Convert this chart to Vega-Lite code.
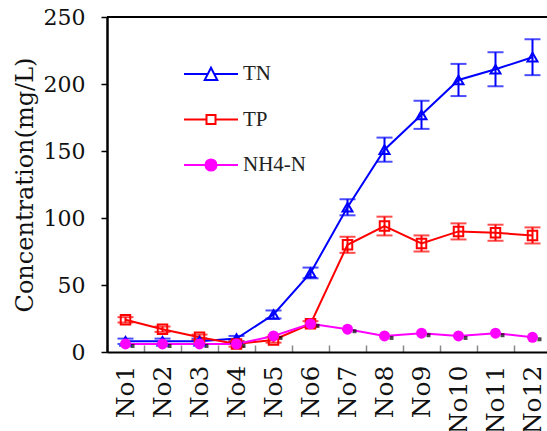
{
  "$schema": "https://vega.github.io/schema/vega-lite/v6.json",
  "autosize": {"type": "none"},
  "padding": {"left": 107, "top": 17, "right": 0, "bottom": 79},
  "width": 440,
  "height": 335,
  "background": "white",
  "config": {
    "view": {"stroke": null},
    "axis": {"labelFont": "DejaVu Serif", "titleFont": "DejaVu Serif", "labelColor": "#111", "titleColor": "#111", "grid": false}
  },
  "data": {
    "values": [
      {"No": "No1", "series": "TN", "value": 8, "err": 2},
      {"No": "No2", "series": "TN", "value": 8, "err": 2},
      {"No": "No3", "series": "TN", "value": 8, "err": 2},
      {"No": "No4", "series": "TN", "value": 10, "err": 2},
      {"No": "No5", "series": "TN", "value": 28, "err": 3},
      {"No": "No6", "series": "TN", "value": 59, "err": 4},
      {"No": "No7", "series": "TN", "value": 108, "err": 6},
      {"No": "No8", "series": "TN", "value": 151, "err": 9},
      {"No": "No9", "series": "TN", "value": 177, "err": 10.5},
      {"No": "No10", "series": "TN", "value": 203, "err": 12},
      {"No": "No11", "series": "TN", "value": 211, "err": 12.7},
      {"No": "No12", "series": "TN", "value": 220, "err": 13.4},
      {"No": "No1", "series": "TP", "value": 24, "err": 2},
      {"No": "No2", "series": "TP", "value": 17, "err": 2},
      {"No": "No3", "series": "TP", "value": 11, "err": 2},
      {"No": "No4", "series": "TP", "value": 6, "err": 2},
      {"No": "No5", "series": "TP", "value": 9, "err": 2},
      {"No": "No6", "series": "TP", "value": 21, "err": 2},
      {"No": "No7", "series": "TP", "value": 80, "err": 6},
      {"No": "No8", "series": "TP", "value": 94, "err": 7},
      {"No": "No9", "series": "TP", "value": 81, "err": 6},
      {"No": "No10", "series": "TP", "value": 90, "err": 6},
      {"No": "No11", "series": "TP", "value": 89, "err": 6},
      {"No": "No12", "series": "TP", "value": 87, "err": 6},
      {"No": "No1", "series": "NH4-N", "value": 6, "err": 0},
      {"No": "No2", "series": "NH4-N", "value": 6, "err": 0},
      {"No": "No3", "series": "NH4-N", "value": 6, "err": 0},
      {"No": "No4", "series": "NH4-N", "value": 6, "err": 0},
      {"No": "No5", "series": "NH4-N", "value": 12, "err": 0},
      {"No": "No6", "series": "NH4-N", "value": 21, "err": 0},
      {"No": "No7", "series": "NH4-N", "value": 17, "err": 0},
      {"No": "No8", "series": "NH4-N", "value": 12, "err": 0},
      {"No": "No9", "series": "NH4-N", "value": 14, "err": 0},
      {"No": "No10", "series": "NH4-N", "value": 12, "err": 0},
      {"No": "No11", "series": "NH4-N", "value": 14, "err": 0},
      {"No": "No12", "series": "NH4-N", "value": 11, "err": 0}
    ]
  },
  "encoding": {
    "y": {
      "field": "value", "type": "quantitative", "title": "Concentration(mg/L)",
      "scale": {"domain": [0, 250], "nice": false},
      "axis": {
        "title": "Concentration(mg/L)", "titleFontSize": 24, "titleFontWeight": "normal", "titlePadding": 6,
        "values": [0, 50, 100, 150, 200, 250], "labelFontSize": 22, "labelPadding": 16,
        "tickSize": 6, "tickColor": "#000", "tickWidth": 1.5, "domainColor": "#000", "domainWidth": 2.5
      }
    }
  },
  "layer": [
    {
      "mark": {"type": "rule", "color": "#000", "strokeWidth": 2},
      "encoding": {"y": {"datum": 250}}
    },
    {
      "transform": [{"filter": "datum.series === 'TN'"}],
      "mark": {"type": "errorbar", "ticks": true, "size": 16, "thickness": 2, "color": "#0000ff"},
      "encoding": {
        "x": {"field": "No", "type": "nominal", "sort": null, "title": null,
          "scale": {"type": "band", "paddingInner": 0, "paddingOuter": 0, "range": [0, 444]}},
        "y": {"field": "value", "type": "quantitative", "title": "Concentration(mg/L)"},
        "yError": {"field": "err"}
      }
    },
    {
      "transform": [{"filter": "datum.series === 'TP'"}],
      "mark": {"type": "errorbar", "ticks": true, "size": 16, "thickness": 2, "color": "#ff0000"},
      "encoding": {
        "x": {"field": "No", "type": "nominal", "sort": null, "title": null,
          "scale": {"type": "band", "paddingInner": 0, "paddingOuter": 0, "range": [0, 444]}},
        "y": {"field": "value", "type": "quantitative", "title": "Concentration(mg/L)"},
        "yError": {"field": "err"}
      }
    },
    {
      "mark": {"type": "line", "strokeWidth": 2},
      "encoding": {
        "x": {
          "field": "No", "type": "nominal", "sort": null, "title": null,
          "scale": {"type": "band", "paddingInner": 0, "paddingOuter": 0, "range": [0, 444]},
          "axis": {
            "title": null, "labelAngle": 270, "labelFontSize": 25, "labelPadding": 20,
            "tickBand": "extent", "tickSize": -7, "tickColor": "#888", "tickWidth": 1.5,
            "domainColor": "#000", "domainWidth": 2
          }
        },
        "color": {
          "field": "series", "type": "nominal",
          "scale": {"domain": ["TN", "TP", "NH4-N"], "range": ["#0000ff", "#ff0000", "#ff00ff"]},
          "legend": {
            "orient": "none", "legendX": 88, "legendY": 41, "title": null, "padding": 0,
            "rowPadding": 19.5, "symbolSize": 900, "labelOffset": 16,
            "labelFont": "Liberation Serif", "labelFontSize": 21, "labelColor": "#222",
            "symbolStrokeWidth": 2, "symbolFillColor": "transparent",
            "encoding": {
              "symbols": {
                "shape": {"value": {"expr": "datum.value === 'TN' ? 'M-1.8,0H-0.215M0.215,0H1.8M0,-0.42L0.42,0.4H-0.42Z' : datum.value === 'TP' ? 'M-1.8,0H-0.3M0.3,0H1.8M-0.3,-0.3H0.3V0.3H-0.3Z' : 'M-1.8,0H1.8M0.37,0A0.37,0.37 0 1,1 -0.37,0A0.37,0.37 0 1,1 0.37,0ZM0.27,0A0.27,0.27 0 1,1 -0.27,0A0.27,0.27 0 1,1 0.27,0ZM0.17,0A0.17,0.17 0 1,1 -0.17,0A0.17,0.17 0 1,1 0.17,0ZM0.07,0A0.07,0.07 0 1,1 -0.07,0A0.07,0.07 0 1,1 0.07,0Z'"}},
                "fill": {"value": {"expr": "datum.value === 'NH4-N' ? '#ff00ff' : 'transparent'"}},
                "stroke": {"value": {"expr": "datum.value === 'TN' ? '#0000ff' : datum.value === 'TP' ? '#ff0000' : '#ff00ff'"}},
                "strokeWidth": {"value": 2}
              }
            }
          }
        }
      }
    },
    {
      "transform": [{"filter": "datum.series === 'NH4-N'"}],
      "mark": {"type": "point", "shape": "square", "filled": true, "color": "#000", "size": 16, "xOffset": 7, "yOffset": 2},
      "encoding": {
        "x": {"field": "No", "type": "nominal", "sort": null, "title": null,
          "scale": {"type": "band", "paddingInner": 0, "paddingOuter": 0, "range": [0, 444]}}
      }
    },
    {
      "transform": [{"filter": "datum.series === 'TN'"}],
      "mark": {"type": "point", "shape": "triangle-up", "filled": false, "color": "#0000ff", "strokeWidth": 2, "size": 100, "opacity": 1},
      "encoding": {
        "x": {"field": "No", "type": "nominal", "sort": null, "title": null,
          "scale": {"type": "band", "paddingInner": 0, "paddingOuter": 0, "range": [0, 444]}}
      }
    },
    {
      "transform": [{"filter": "datum.series === 'TP'"}],
      "mark": {"type": "point", "shape": "square", "filled": false, "color": "#ff0000", "strokeWidth": 2, "size": 90, "opacity": 1},
      "encoding": {
        "x": {"field": "No", "type": "nominal", "sort": null, "title": null,
          "scale": {"type": "band", "paddingInner": 0, "paddingOuter": 0, "range": [0, 444]}}
      }
    },
    {
      "transform": [{"filter": "datum.series === 'NH4-N'"}],
      "mark": {"type": "point", "shape": "circle", "filled": true, "color": "#ff00ff", "size": 120, "opacity": 1},
      "encoding": {
        "x": {"field": "No", "type": "nominal", "sort": null, "title": null,
          "scale": {"type": "band", "paddingInner": 0, "paddingOuter": 0, "range": [0, 444]}}
      }
    }
  ]
}
